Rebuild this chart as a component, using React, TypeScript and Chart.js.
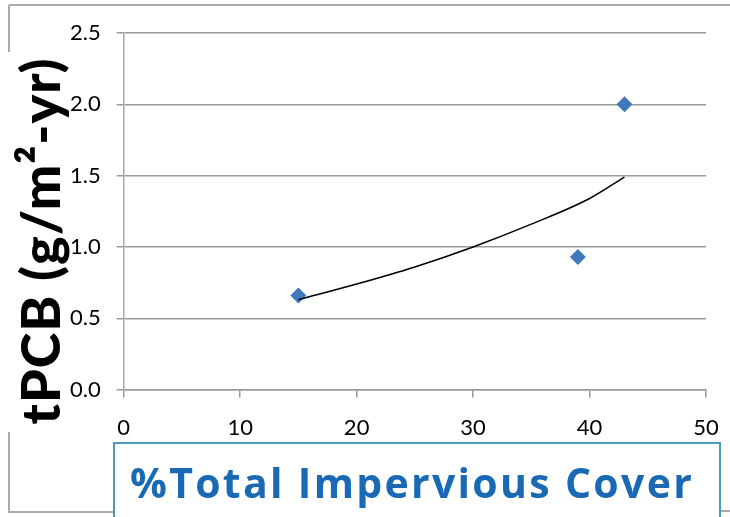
import React, { useEffect, useRef } from "react";
import { Chart, registerables } from "chart.js";

Chart.register(...registerables);

const siteImpervious = [15, 39, 43];
const siteTPCB = [0.66, 0.93, 2.0];
const trendImpervious = [15, 20, 25, 30, 35, 40, 43];
const trendTPCB = [0.63, 0.74, 0.86, 1.0, 1.16, 1.34, 1.49];
const xTickValues = [0, 10, 20, 30, 40, 50];
const yTickValues = [0, 0.5, 1.0, 1.5, 2.0, 2.5];
const yTitle = "tPCB (g/m²-yr)";
const xTitle = "%Total Impervious Cover";

const FONT = "Lato, 'Open Sans', sans-serif";
const TITLE_FONT = "'Open Sans', Lato, sans-serif";

const decorPlugin = {
  id: "decor",
  beforeDraw(chart: any) {
    const ctx = chart.ctx;
    ctx.save();
    ctx.fillStyle = "#ffffff";
    ctx.fillRect(0, 0, chart.width, chart.height);
    ctx.strokeStyle = "#ababab";
    ctx.lineWidth = 2;
    ctx.beginPath();
    ctx.moveTo(9, 5);
    ctx.lineTo(chart.width, 5);
    ctx.moveTo(9, 5);
    ctx.lineTo(9, 52);
    ctx.moveTo(9, 432);
    ctx.lineTo(9, 512);
    ctx.lineTo(113, 512);
    ctx.moveTo(720, 511);
    ctx.lineTo(chart.width, 511);
    ctx.stroke();
    ctx.restore();
  },
  afterDraw(chart: any) {
    const ctx = chart.ctx;
    ctx.save();
    ctx.fillStyle = "#ffffff";
    ctx.fillRect(113, 442, 607, 80);
    ctx.strokeStyle = "#4a9db6";
    ctx.lineWidth = 2;
    ctx.strokeRect(114, 443, 606, 80);
    ctx.fillStyle = "#1a69b5";
    ctx.font = `bold 41px ${TITLE_FONT}`;
    (ctx as any).letterSpacing = "2.3px";
    ctx.textAlign = "center";
    ctx.textBaseline = "alphabetic";
    ctx.fillText(xTitle, 412, 498);
    ctx.translate(60, 241);
    ctx.rotate(-Math.PI / 2);
    ctx.fillStyle = "#000000";
    ctx.font = `900 54px ${FONT}`;
    (ctx as any).letterSpacing = "1px";
    ctx.fillText(yTitle, 0, 0);
    ctx.restore();
  },
};

export default function App() {
  const canvasRef = useRef<HTMLCanvasElement | null>(null);

  useEffect(() => {
    if (!canvasRef.current) return;
    const chart = new Chart(canvasRef.current, {
      type: "scatter",
      data: {
        datasets: [
          {
            type: "line",
            label: "Trend",
            data: trendImpervious.map((x, i) => ({ x, y: trendTPCB[i] })),
            borderColor: "#000000",
            borderWidth: 1.5,
            pointRadius: 0,
            cubicInterpolationMode: "monotone",
            fill: false,
          } as any,
          {
            label: "Sites",
            data: siteImpervious.map((x, i) => ({ x, y: siteTPCB[i] })),
            pointStyle: "rectRot",
            pointRadius: 8,
            backgroundColor: "#3f78bd",
            borderColor: "#3f78bd",
            borderWidth: 0,
          },
        ],
      },
      options: {
        animation: false,
        responsive: false,
        layout: { padding: { left: 54, top: 33, right: 24, bottom: 59 } },
        plugins: {
          legend: { display: false },
          tooltip: { enabled: false },
        },
        scales: {
          x: {
            type: "linear",
            min: 0,
            max: 50,
            afterBuildTicks: (s: any) => {
              s.ticks = xTickValues.map((v) => ({ value: v }));
            },
            afterFit: (s: any) => {
              s.paddingRight = 12;
            },
            ticks: {
              font: { family: FONT, size: 22 },
              color: "#000000",
              padding: 17,
            },
            grid: {
              drawOnChartArea: false,
              drawTicks: true,
              tickLength: 8,
              color: "#9a9a9a",
              lineWidth: 1.5,
            },
            border: { display: true, color: "#9a9a9a", width: 1.5 },
          },
          y: {
            min: 0,
            max: 2.5,
            afterBuildTicks: (s: any) => {
              s.ticks = yTickValues.map((v) => ({ value: v }));
            },
            ticks: {
              font: { family: FONT, size: 22 },
              color: "#000000",
              padding: 16,
              callback: (v: any) => Number(v).toFixed(1),
            },
            grid: {
              color: "#9a9a9a",
              lineWidth: 1.5,
              tickLength: 7,
            },
            border: { display: true, color: "#aaaaaa", width: 1.5 },
          },
        },
      },
      plugins: [decorPlugin],
    });
    return () => chart.destroy();
  }, []);

  return (
    <div style={{ position: "absolute", left: 0, top: 0, width: 730, height: 517 }}>
      <canvas ref={canvasRef} width={730} height={517} style={{ display: "block" }} />
    </div>
  );
}
